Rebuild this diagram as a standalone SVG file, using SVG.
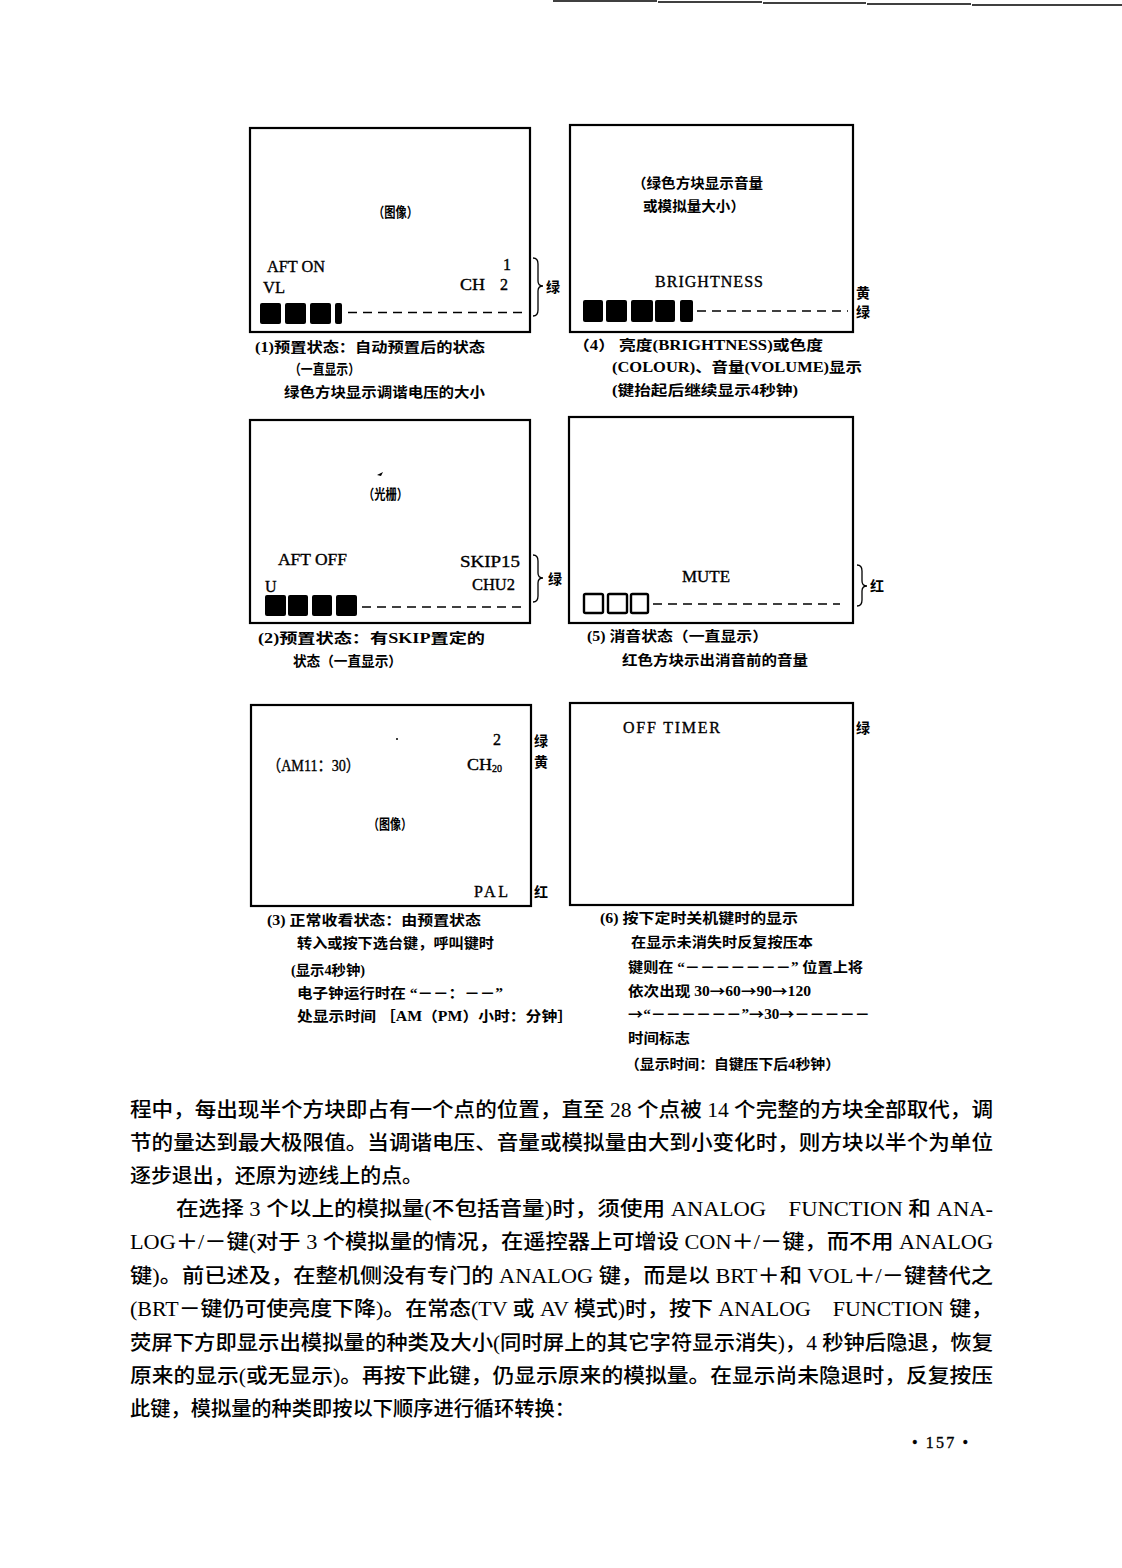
<svg xmlns="http://www.w3.org/2000/svg" width="1122" height="1568" viewBox="0 0 1122 1568">
<style>
.scr{fill:none;stroke:#000;stroke-width:2.2}
.blk{fill:#000}
.hol{fill:none;stroke:#000;stroke-width:2.4}
.dash{stroke:#000;stroke-width:1.6;stroke-dasharray:9 6;fill:none}
.brace{fill:none;stroke:#000;stroke-width:1.3}
.cap{font-family:"Liberation Serif","Noto Sans CJK SC",serif;font-size:14px;font-weight:bold;fill:#000}
.lat{font-family:"Liberation Serif","Noto Sans CJK SC",serif;font-size:16px;fill:#000;stroke:#000;stroke-width:0.35}
.sub{font-size:10px}
.body{font-family:"Liberation Serif","Noto Sans CJK SC",serif;font-size:20px;font-weight:500;fill:#000}
.arr{font-family:"Noto Sans CJK SC",sans-serif}
</style>
<rect width="1122" height="1568" fill="#fff"/>
<g id="scanline" stroke="#000" stroke-width="1.5">
<line x1="553" y1="1" x2="657" y2="1"/><line x1="658" y1="2" x2="762" y2="2"/><line x1="763" y1="3" x2="866" y2="3"/><line x1="867" y1="4" x2="971" y2="4"/><line x1="972" y1="5" x2="1122" y2="5"/>
</g>

<g id="panel1">
<rect class="scr" x="250" y="128" width="280" height="204"/>
<text class="cap" x="373" y="217" textLength="45" lengthAdjust="spacingAndGlyphs">（图像）</text>
<text class="lat" x="267" y="272" textLength="58" lengthAdjust="spacingAndGlyphs">AFT ON</text>
<text class="lat" x="503" y="270">1</text>
<text class="lat" x="263" y="293" textLength="22" lengthAdjust="spacingAndGlyphs">VL</text>
<text class="lat" x="460" y="290" textLength="25" lengthAdjust="spacingAndGlyphs">CH</text>
<text class="lat" x="500" y="290">2</text>
<rect class="blk" x="260" y="303" width="21" height="21" rx="2"/>
<rect class="blk" x="285" y="303" width="21" height="21" rx="2"/>
<rect class="blk" x="310" y="303" width="21" height="21" rx="2"/>
<rect class="blk" x="335" y="303" width="7" height="21" rx="2"/>
<line class="dash" x1="348" y1="312.5" x2="523" y2="312.5"/>
<text class="cap" x="546" y="292">绿</text>
<text class="cap" x="255" y="352" textLength="230" lengthAdjust="spacingAndGlyphs">(1)预置状态：自动预置后的状态</text>
<text class="cap" x="289" y="374" textLength="71" lengthAdjust="spacingAndGlyphs">（一直显示）</text>
<text class="cap" x="284" y="397" textLength="201" lengthAdjust="spacingAndGlyphs">绿色方块显示调谐电压的大小</text>
</g>

<g id="panel4">
<rect class="scr" x="570" y="125" width="283" height="207"/>
<text class="cap" x="632" y="188" textLength="131" lengthAdjust="spacingAndGlyphs">（绿色方块显示音量</text>
<text class="cap" x="643" y="211" textLength="102" lengthAdjust="spacingAndGlyphs">或模拟量大小）</text>
<text class="lat" x="655" y="287" textLength="108" lengthAdjust="spacing">BRIGHTNESS</text>
<rect class="blk" x="583" y="300" width="20" height="22" rx="2"/>
<rect class="blk" x="606" y="300" width="21" height="22" rx="2"/>
<rect class="blk" x="631" y="300" width="22" height="22" rx="2"/>
<rect class="blk" x="655" y="300" width="20" height="22" rx="2"/>
<rect class="blk" x="680" y="300" width="13" height="22" rx="2"/>
<line class="dash" x1="697" y1="311" x2="848" y2="311"/>
<text class="cap" x="856" y="298">黄</text>
<text class="cap" x="856" y="317">绿</text>
<text class="cap" x="573" y="350" textLength="250" lengthAdjust="spacingAndGlyphs">（4）  亮度(BRIGHTNESS)或色度</text>
<text class="cap" x="612" y="372" textLength="250" lengthAdjust="spacingAndGlyphs">(COLOUR)、音量(VOLUME)显示</text>
<text class="cap" x="612" y="395" textLength="186" lengthAdjust="spacingAndGlyphs">(键抬起后继续显示4秒钟)</text>
</g>

<g id="panel2">
<rect class="scr" x="250" y="420" width="280" height="203"/>
<path d="M383 472 L377 475 L381 476 Z" fill="#000"/>
<text class="cap" x="363" y="499" textLength="45" lengthAdjust="spacingAndGlyphs">（光栅）</text>
<text class="lat" x="278" y="565" textLength="69" lengthAdjust="spacingAndGlyphs">AFT OFF</text>
<text class="lat" x="460" y="567" textLength="60" lengthAdjust="spacingAndGlyphs">SKIP15</text>
<text class="lat" x="265" y="592">U</text>
<text class="lat" x="472" y="590" textLength="43" lengthAdjust="spacingAndGlyphs">CHU2</text>
<rect class="blk" x="265" y="595" width="21" height="21" rx="2"/>
<rect class="blk" x="288" y="595" width="20" height="21" rx="2"/>
<rect class="blk" x="312" y="595" width="20" height="21" rx="2"/>
<rect class="blk" x="336" y="595" width="21" height="21" rx="2"/>
<line class="dash" x1="362" y1="607" x2="521" y2="607"/>
<text class="cap" x="548" y="584">绿</text>
<text class="cap" x="258" y="643" textLength="227" lengthAdjust="spacingAndGlyphs">(2)预置状态：有SKIP置定的</text>
<text class="cap" x="293" y="666" textLength="109" lengthAdjust="spacingAndGlyphs">状态（一直显示）</text>
</g>

<g id="panel5">
<rect class="scr" x="569" y="417" width="284" height="206"/>
<text class="lat" x="682" y="582" textLength="48" lengthAdjust="spacingAndGlyphs">MUTE</text>
<rect class="hol" x="584" y="594" width="19" height="19" rx="1.5"/>
<rect class="hol" x="608" y="594" width="19" height="19" rx="1.5"/>
<rect class="hol" x="631" y="594" width="17" height="19" rx="1.5"/>
<line class="dash" x1="653" y1="604" x2="840" y2="604"/>
<text class="cap" x="870" y="591">红</text>
<text class="cap" x="587" y="641" textLength="181" lengthAdjust="spacingAndGlyphs">(5)  消音状态（一直显示）</text>
<text class="cap" x="622" y="665" textLength="186" lengthAdjust="spacingAndGlyphs">红色方块示出消音前的音量</text>
</g>

<g id="panel3">
<rect class="scr" x="251" y="705" width="280" height="201"/>
<circle cx="397" cy="739" r="1" fill="#000"/>
<text class="lat" x="493" y="745">2</text>
<text class="lat" x="267" y="771" textLength="93" lengthAdjust="spacingAndGlyphs">（AM11：30）</text>
<text class="lat" x="467" y="770" textLength="25" lengthAdjust="spacingAndGlyphs">CH</text>
<text class="lat sub" x="492" y="772">20</text>
<text class="cap" x="368" y="829" textLength="44" lengthAdjust="spacingAndGlyphs">（图像）</text>
<text class="lat" x="474" y="897" textLength="34" lengthAdjust="spacing">PAL</text>
<text class="cap" x="534" y="746">绿</text>
<text class="cap" x="534" y="767">黄</text>
<text class="cap" x="534" y="897">红</text>
<text class="cap" x="267" y="925" textLength="214" lengthAdjust="spacingAndGlyphs">(3)  正常收看状态：由预置状态</text>
<text class="cap" x="297" y="948" textLength="197" lengthAdjust="spacingAndGlyphs">转入或按下选台键，呼叫键时</text>
<text class="cap" x="291" y="975" textLength="74" lengthAdjust="spacingAndGlyphs">(显示4秒钟)</text>
<text class="cap" x="297" y="998" textLength="206" lengthAdjust="spacingAndGlyphs">电子钟运行时在 “－－：－－”</text>
<text class="cap" x="297" y="1021" textLength="276" lengthAdjust="spacingAndGlyphs">处显示时间 ［AM（PM）小时：分钟］</text>
</g>

<g id="panel6">
<rect class="scr" x="570" y="703" width="283" height="202"/>
<text class="lat" x="623" y="733" textLength="97" lengthAdjust="spacing">OFF TIMER</text>
<text class="cap" x="856" y="733">绿</text>
<text class="cap" x="600" y="923" textLength="198" lengthAdjust="spacingAndGlyphs">(6)  按下定时关机键时的显示</text>
<text class="cap" x="631" y="947" textLength="182" lengthAdjust="spacingAndGlyphs">在显示未消失时反复按压本</text>
<text class="cap" x="628" y="972" textLength="235" lengthAdjust="spacingAndGlyphs">键则在 “－－－－－－－” 位置上将</text>
<text class="cap" x="628" y="996" textLength="183" lengthAdjust="spacingAndGlyphs">依次出现 30<tspan class="arr">→</tspan>60<tspan class="arr">→</tspan>90<tspan class="arr">→</tspan>120</text>
<text class="cap" x="628" y="1019" textLength="242" lengthAdjust="spacingAndGlyphs"><tspan class="arr">→</tspan>“－－－－－－”<tspan class="arr">→</tspan>30<tspan class="arr">→</tspan>－－－－－</text>
<text class="cap" x="628" y="1043" textLength="62" lengthAdjust="spacingAndGlyphs">时间标志</text>
<text class="cap" x="625" y="1069" textLength="215" lengthAdjust="spacingAndGlyphs">（显示时间：自键压下后4秒钟）</text>
</g>

<g id="connectors">
<path class="brace" d="M533 258 Q538 258 538 264 L538 281 Q538 286 543 286 Q538 286 538 291 L538 310 Q538 316 533 316"/>
<path class="brace" d="M533 555 Q538 555 538 561 L538 573 Q538 578 543 578 Q538 578 538 583 L538 596 Q538 602 533 602"/>
<path class="brace" d="M857 565 Q862 565 862 571 L862 581 Q862 586 867 586 Q862 586 862 591 L862 600 Q862 606 857 606"/>
</g>

<g id="bodytext">
<text class="body" x="130" y="1117" textLength="863" lengthAdjust="spacingAndGlyphs">程中，每出现半个方块即占有一个点的位置，直至 28 个点被 14 个完整的方块全部取代，调</text>
<text class="body" x="130" y="1150" textLength="863" lengthAdjust="spacingAndGlyphs">节的量达到最大极限值。当调谐电压、音量或模拟量由大到小变化时，则方块以半个为单位</text>
<text class="body" x="130" y="1183" textLength="293" lengthAdjust="spacingAndGlyphs">逐步退出，还原为迹线上的点。</text>
<text class="body" x="176" y="1216" textLength="817" lengthAdjust="spacingAndGlyphs">在选择 3 个以上的模拟量(不包括音量)时，须使用 ANALOG　FUNCTION 和 ANA-</text>
<text class="body" x="130" y="1249" textLength="863" lengthAdjust="spacingAndGlyphs">LOG＋/－键(对于 3 个模拟量的情况，在遥控器上可增设 CON＋/－键，而不用 ANALOG</text>
<text class="body" x="130" y="1283" textLength="863" lengthAdjust="spacingAndGlyphs">键)。前已述及，在整机侧没有专门的 ANALOG 键，而是以 BRT＋和 VOL＋/－键替代之</text>
<text class="body" x="130" y="1316" textLength="863" lengthAdjust="spacingAndGlyphs">(BRT－键仍可使亮度下降)。在常态(TV 或 AV 模式)时，按下 ANALOG　FUNCTION 键，</text>
<text class="body" x="130" y="1350" textLength="863" lengthAdjust="spacingAndGlyphs">荧屏下方即显示出模拟量的种类及大小(同时屏上的其它字符显示消失)，4 秒钟后隐退，恢复</text>
<text class="body" x="130" y="1383" textLength="863" lengthAdjust="spacingAndGlyphs">原来的显示(或无显示)。再按下此键，仍显示原来的模拟量。在显示尚未隐退时，反复按压</text>
<text class="body" x="130" y="1416" textLength="445" lengthAdjust="spacingAndGlyphs">此键，模拟量的种类即按以下顺序进行循环转换：</text>
<text class="lat" x="912" y="1448" textLength="56" lengthAdjust="spacing">• 157 •</text>
</g>
</svg>
